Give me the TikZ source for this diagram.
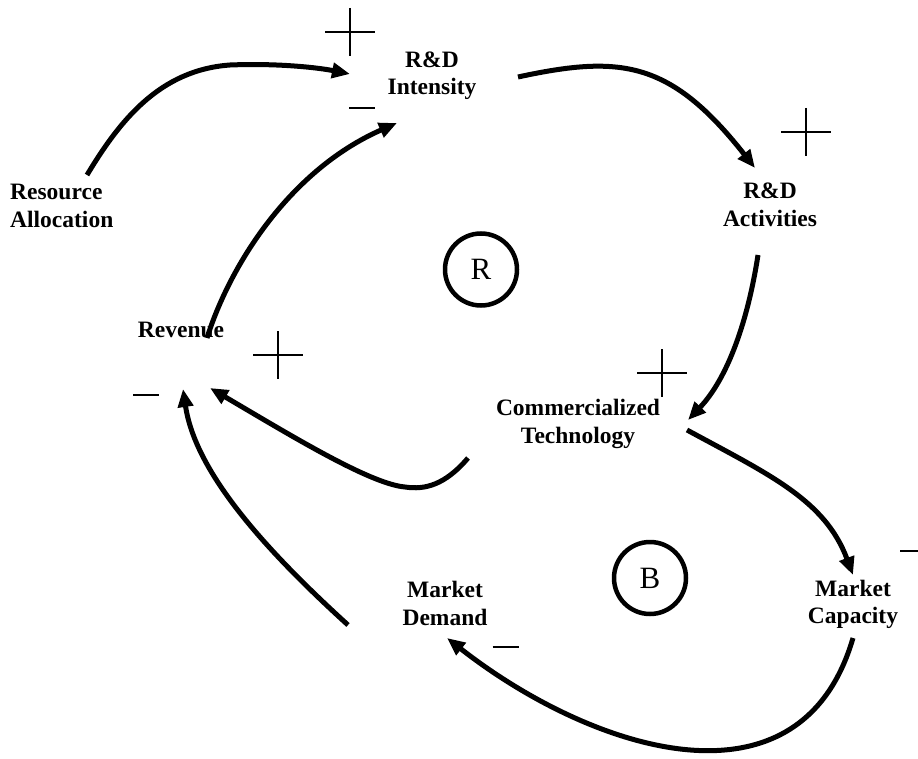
\documentclass[tikz,border=0pt]{standalone}
\usepackage{fontspec}
\setmainfont{Liberation Serif}
\usetikzlibrary{arrows.meta}
\begin{document}
\begin{tikzpicture}[x=1pt,y=-1pt,
  var/.style={font=\bfseries\fontsize{23.5}{27.5}\selectfont, align=center, inner sep=0pt},
  loopmark/.style={circle, draw, line width=4.5pt, minimum size=72pt, inner sep=0pt,
                   font=\fontsize{31}{31}\selectfont},
  link/.style={line width=5pt, -{Triangle[length=18pt,width=15pt]}},
  polarity/.style={line width=1.6pt},
  plussign/.pic={\draw[polarity] (-25,0)--(25,0) (0,-24)--(0,24);},
  minussign/.pic={\draw[polarity] (-13,0)--(13,0);}
]
\useasboundingbox (0,0) rectangle (918,759);

% variables
\node[var] (rdi) at (432,75.5) {R\&D\\Intensity};
\node[var] (rda) at (770,205) {R\&D\\Activities};
\node[var, anchor=west, align=left] (res) at (10,206) {Resource\\Allocation};
\node[var] (rev) at (181,330) {Revenue};
\node[var] (com) at (578,424) {Commercialized\\Technology};
\node[var] (dem) at (445,603.5) {Market\\Demand};
\node[var] (cap) at (853,604.5) {Market\\Capacity};

% loop markers
\node[loopmark] (loopR) at (481,269.5) {R};
\node[loopmark] (loopB) at (650,578) {B};

% causal links
\draw[link] ([shift={(77,-31)}]res.west)
  .. controls (120,120) and (160,70) .. (230,65)
  .. controls (280,63) and (320,68) .. ([shift={(-82,-1.5)}]rdi.center);
\draw[link] ([shift={(26,8)}]rev.center)
  .. controls (230,265) and (290,170) .. ([shift={(-35,47.5)}]rdi.center);
\draw[link] ([shift={(86,1.5)}]rdi.center)
  .. controls (620,55) and (670,60) .. ([shift={(-15,-37)}]rda.center);
\draw[link] ([shift={(-12,50)}]rda.center)
  .. controls (748,320) and (728,378) .. ([shift={(110,-4)}]com.center);
\draw[link] ([shift={(-110,34)}]com.center)
  .. controls (445,485) and (425,490) .. (405,487)
  .. controls (370,484) and (290,435) .. ([shift={(29,58)}]rev.center);
\draw[link] ([shift={(109,6)}]com.center)
  .. controls (770,475) and (825,500) .. ([shift={(0,-29.5)}]cap.center);
\draw[link] ([shift={(0,33.5)}]cap.center)
  .. controls (800,820) and (590,750) .. ([shift={(2,34.5)}]dem.center);
\draw[link] ([shift={(-97,21.5)}]dem.center)
  .. controls (260,545) and (195,470) .. ([shift={(2,59)}]rev.center);

% polarity signs
\pic at (350,32) {plussign};
\pic at (362,108) {minussign};
\pic at (806,132) {plussign};
\pic at (278,355) {plussign};
\pic at (146,395) {minussign};
\pic at (662,373) {plussign};
\pic at (505.5,647) {minussign};
\pic at (913,551) {minussign};
\end{tikzpicture}
\end{document}
